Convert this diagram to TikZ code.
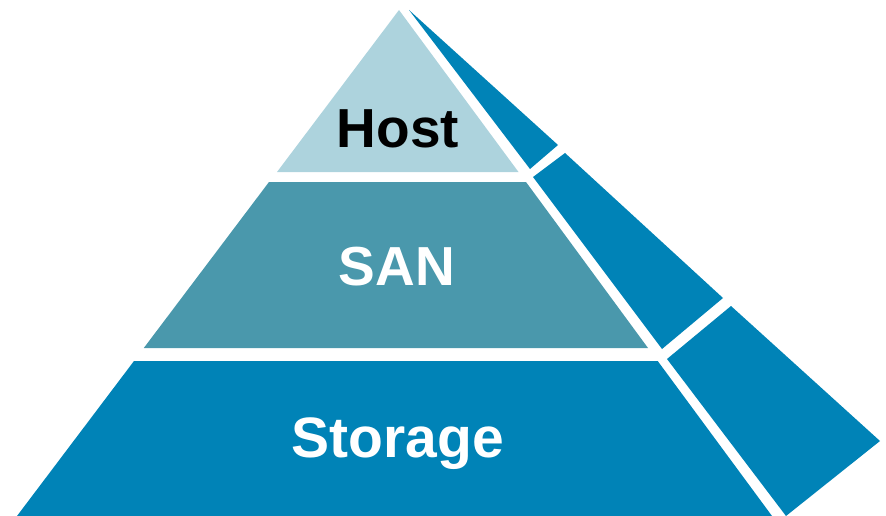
\documentclass[tikz,border=0pt]{standalone}
\usepackage{fontspec}
\setmainfont{Liberation Sans}
\definecolor{hostc}{HTML}{ADD3DD}
\definecolor{sanc}{HTML}{4A98AC}
\definecolor{storc}{HTML}{0083B7}
\begin{document}
\begin{tikzpicture}[x=1pt,y=-1pt,
  lbl/.style={font=\bfseries\fontsize{55}{55}\selectfont, anchor=base, inner sep=0pt}]
\useasboundingbox (0,0) rectangle (886,516);
% front face
\fill[hostc] (399,10) -- (277,172) -- (518.5,172) -- cycle;
\fill[sanc] (269,182) -- (526,182) -- (648,348) -- (143.8,348) -- cycle;
\fill[storc] (134,361) -- (657.7,361) -- (772,516) -- (17,516) -- cycle;
% side face
\fill[storc] (409,10) -- (558,145) -- (530,169) -- cycle;
\fill[storc] (533,177) -- (565,153) -- (723,298) -- (662,349) -- cycle;
\fill[storc] (667,359) -- (731,306) -- (880,441) -- (786,516) -- cycle;
% labels
\node[lbl, text=black] (host) at (398,147) {Host};
\node[lbl, text=white] (san) at (397,285) {SAN};
\node[lbl, text=white, font=\bfseries\fontsize{57}{57}\selectfont] (stor) at (398,457) {Storage};
\end{tikzpicture}
\end{document}
